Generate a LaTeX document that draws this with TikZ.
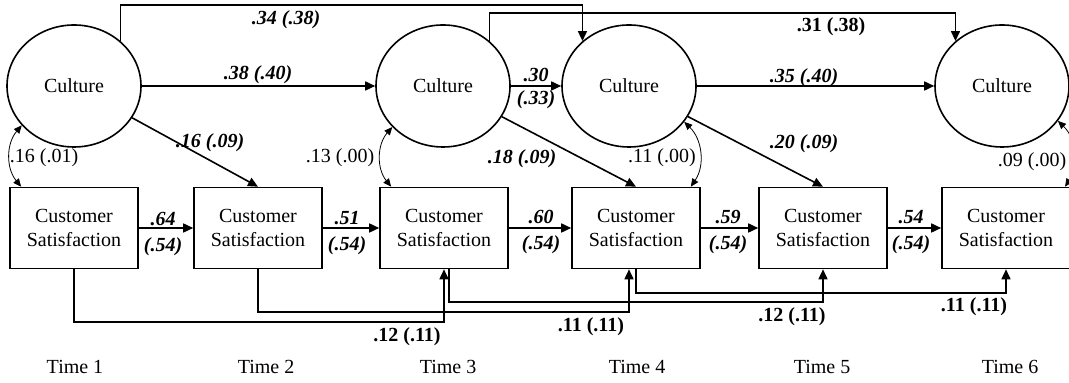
\documentclass[tikz,border=0pt]{standalone}
\usepackage{fontspec}
\setmainfont{Liberation Serif}
\usetikzlibrary{arrows.meta, positioning, shapes.geometric}

\begin{document}
\begin{tikzpicture}[
  x=0.5pt, y=-0.5pt,
  every node/.style={font=\fontsize{10}{11.8}\selectfont},
  latent/.style={draw, ellipse, line width=0.8pt, minimum width=67pt, minimum height=61pt, inner sep=0pt},
  observed/.style={draw, line width=0.8pt, align=center, minimum width=64pt, minimum height=40.5pt, inner sep=0pt},
  effect/.style={line width=0.8pt, -{Triangle[length=5pt, width=4.5pt]}},
  covar/.style={line width=0.4pt, {Triangle[length=4pt, width=3.5pt]}-{Triangle[length=4pt, width=3.5pt]}},
  coef/.style={font=\fontsize{10}{13}\selectfont\bfseries\itshape, align=center, inner sep=0pt},
  lagcoef/.style={font=\fontsize{10}{13}\selectfont\bfseries, inner sep=0pt},
  corr/.style={inner sep=0pt}
]
  \useasboundingbox (0,0) rectangle (1069,383);

  \node[latent] (cult1) at (74,86) {Culture};
  \node[latent] (cult3) at (443,86) {Culture};
  \node[latent] (cult4) at (629,86) {Culture};
  \node[latent] (cult6) at (1002,86) {Culture};

  \node[observed] (sat1) at (74,228) {Customer\\Satisfaction};
  \node[observed] (sat2) at (258,228) {Customer\\Satisfaction};
  \node[observed] (sat3) at (444,228) {Customer\\Satisfaction};
  \node[observed] (sat4) at (636,228) {Customer\\Satisfaction};
  \node[observed] (sat5) at (823,228) {Customer\\Satisfaction};
  \node[observed] (sat6) at (1006,228) {Customer\\Satisfaction};

  \foreach \t/\x in {1/75, 2/266, 3/448, 4/637, 5/822, 6/1010}
    \node (time\t) at (\x,367) {Time \t};

  \coordinate (railA) at (0,5);
  \coordinate (railB) at (0,13);
  \coordinate (lagA) at (0,322);
  \coordinate (lagB) at (0,312);
  \coordinate (lagC) at (0,302);
  \coordinate (lagD) at (0,293);
  \coordinate (out3) at ([xshift=2.5pt]sat3.south);
  \coordinate (in4) at ([xshift=-3.5pt]sat4.south);

  \draw[effect] (cult1) -- (cult3);
  \draw[effect] (cult3) -- (cult4);
  \draw[effect] (cult4) -- (cult6);
  \draw[effect] (cult1.44) |- (cult4.136 |- railA) -- (cult4.136);
  \draw[effect] (cult3.44) |- (cult6.136 |- railB) -- (cult6.136);
  \draw[effect] (cult1) -- (sat2.north);
  \draw[effect] (cult3) -- (sat4.north);
  \draw[effect] (cult4) -- (sat5.north);
  \foreach \a/\b in {1/2, 2/3, 3/4, 4/5, 5/6}
    \draw[effect] (sat\a) -- (sat\b);

  \draw[effect] (sat1.south) |- (sat3.south |- lagA) -- (sat3.south);
  \draw[effect] (sat2.south) |- (in4 |- lagB) -- (in4);
  \draw[effect] (out3) |- (sat5.south |- lagC) -- (sat5.south);
  \draw[effect] (sat4.south) |- (sat6.south |- lagD) -- (sat6.south);

  \draw[covar] (cult1.217) to[bend right=40] (sat1.142);
  \draw[covar] (cult3.219) to[bend right=40] (sat3.142);
  \draw[covar] (cult4.-33) to[bend left=40] (sat4.37);
  \draw[covar] (cult6.-32) to[bend left=40] (sat6.35);

  \node[coef] (k14) at (286,20) {.34 (.38)};
  \node[coef] (k13) at (258,75) {.38 (.40)};
  \node[lagcoef] (k36) at (831,27) {.31 (.38)};
  \node[coef] (k34) at (536,88) {.30\\[-1.5pt](.33)};
  \node[coef] (k46) at (804,78) {.35 (.40)};
  \node[coef] (g12) at (210,143) {.16 (.09)};
  \node[coef] (g34) at (522,159) {.18 (.09)};
  \node[coef] (g45) at (804,144) {.20 (.09)};

  \node[corr] (r1) at (44,158) {.16 (.01)};
  \node[corr] (r3) at (340,158) {.13 (.00)};
  \node[corr] (r4) at (662,158) {.11 (.00)};
  \node[corr] (r6) at (1032,162) {.09 (.00)};

  \node[coef] (s12) at (163,234) {.64\\(.54)};
  \node[coef] (s23) at (347,233) {.51\\(.54)};
  \node[coef] (s34) at (541,232) {.60\\(.54)};
  \node[coef] (s45) at (728,232) {.59\\(.54)};
  \node[coef] (s56) at (911,232) {.54\\(.54)};

  \node[lagcoef] (l13) at (407,337) {.12 (.11)};
  \node[lagcoef] (l24) at (591,327) {.11 (.11)};
  \node[lagcoef] (l35) at (792,317) {.12 (.11)};
  \node[lagcoef] (l46) at (974,307) {.11 (.11)};
\end{tikzpicture}
\end{document}
